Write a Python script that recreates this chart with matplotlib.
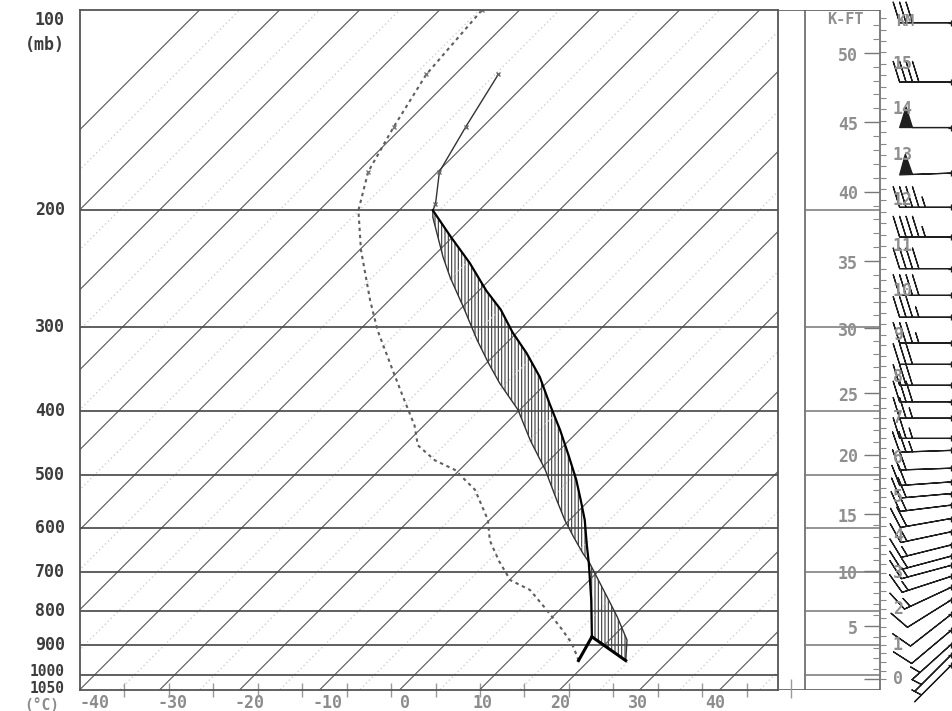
import numpy as np
import matplotlib
matplotlib.use("Agg")
import matplotlib.pyplot as plt

# ---------------- data ----------------
pressure_levels = [100, 200, 300, 400, 500, 600, 700, 800, 900, 1000, 1050]
pressure_labels = ["100", "200", "300", "400", "500", "600", "700", "800", "900", "1000", "1050"]
temp_label_values = [-40, -30, -20, -10, 0, 10, 20, 30, 40]
isotherm_values = list(range(-110, 50, 10))
fahrenheit_ticks = list(range(-30, 120, 10))

# environmental temperature (hPa, degC), surface upward
env_p = [950, 885, 817, 762, 678, 655, 619, 584, 545, 491, 443, 399, 364, 339,
         313, 280, 252, 235, 205, 200, 196, 175, 150, 125]
env_t = [24.6, 22.2, 18.1, 14.3, 7.9, 5.8, 2.6, -0.6, -4.1, -9.3, -14.9, -20.2,
         -25.8, -29.8, -34.1, -39.8, -45.3, -48.7, -54.9, -55.8, -56.2, -59.8,
         -62.1, -64.6]

# lifted parcel from LCL upward
parcel_p = [875, 770, 678, 637, 584, 545, 508, 466, 428, 390, 356, 328, 305,
            282, 264, 240, 219, 200]
parcel_t = [17.4, 12.7, 7.8, 5.3, 1.9, -1.1, -4.2, -8.3, -12.4, -17.1, -21.6,
            -26.2, -30.6, -34.9, -39.1, -44.6, -50.3, -55.8]

# dewpoint, surface upward
dew_p = [950, 938, 895, 851, 795, 744, 719, 673, 627, 584, 526, 491, 475, 451,
         421, 386, 348, 303, 273, 229, 200, 175, 150, 125, 100]
dew_t = [18.7, 18.1, 15.7, 12.6, 8.2, 3.8, 0.1, -3.7, -7.4, -10.2, -15.6, -20.6,
         -24.3, -28.3, -31.2, -35.6, -40.8, -47.7, -52.4, -59.9, -65.1, -68.7,
         -71.1, -73.6, -74.7]

sfc_p, sfc_t, sfc_td = 950, 24.6, 18.7
lcl_p, lcl_t = 875, 17.4
lfc_p, el_p = 678, 200

kft_labels = [5, 10, 15, 20, 25, 30, 35, 40, 45, 50]
km_labels = list(range(0, 16))

wind_km = [15.9, 14.6, 13.6, 12.6, 11.85, 11.2, 10.5, 9.9, 9.4, 8.8, 8.3, 7.8,
           7.4, 7.0, 6.5, 6.2, 5.75, 5.4, 5.1, 4.8, 4.45, 4.1, 3.75, 3.45, 3.2,
           2.9, 2.6, 2.25, 1.85, 1.4, 1.0, 0.7, 0.4]
wind_dir = [270, 270, 270, 268, 270, 270, 270, 270, 270, 270, 270, 270, 270, 270,
            270, 268, 268, 266, 265, 263, 260, 258, 256, 255, 255, 252, 245, 238,
            232, 230, 228, 225, 225]
wind_kt = [30, 40, 50, 50, 45, 45, 40, 40, 35, 35, 30, 30, 30, 25, 25, 25, 20,
           20, 20, 20, 20, 15, 15, 15, 15, 15, 15, 10, 10, 10, 5, 5, 5]

# ---------------- helpers ----------------
SKEW = 36.125  # degC of x-shift per unit ln(p)


def skew_x(t, p):
    return np.asarray(t, float) + SKEW * np.log(1050.0 / np.asarray(p, float))


def isa_p(h_km):
    h = np.asarray(h_km, float) * 1000.0
    lower = 1013.25 * np.clip(1 - 2.25577e-5 * h, 1e-6, None) ** 5.25588
    upper = 226.32 * np.exp(-(h - 11000.0) / 6341.6)
    return np.where(h <= 11000.0, lower, upper)


plt.rcParams['font.family'] = ['DejaVu Sans Mono']
plt.rcParams['font.weight'] = 'bold'
plt.rcParams['hatch.linewidth'] = 0.8

W, H = 953, 711
L, R, T, B = 80, 778, 10, 689.5
fig = plt.figure(figsize=(W / 100, H / 100), dpi=100)
fig.patch.set_facecolor('white')

ax = fig.add_axes([L / W, 1 - B / H, (R - L) / W, (B - T) / H])
ax.set_yscale('log')
ax.set_ylim(1050, 100)
ax.set_xlim(-40, 47.25)
ax.set_yticks([])
ax.set_yticks([], minor=True)
for s in ax.spines.values():
    s.set_color('#555555')
    s.set_linewidth(1.3)

# isotherms and faint intermediate lines
pp = np.array([1050, 100])
for t in isotherm_values:
    ax.plot(skew_x([t, t], pp), pp, color='#555555', lw=0.8)
    ax.plot(skew_x([t + 5, t + 5], pp), pp, color='#cfcfcf', lw=1.0, ls=(0, (1, 2)))

# pressure lines
for p in pressure_levels[1:-1]:
    ax.axhline(p, color='#444444', lw=1.2)

env_p_a, env_t_a = np.array(env_p, float), np.array(env_t, float)
par_p_a, par_t_a = np.array(parcel_p, float), np.array(parcel_t, float)

# positive area (hatched)
m1 = (env_p_a <= lfc_p) & (env_p_a >= el_p)
m2 = (par_p_a <= lfc_p) & (par_p_a >= el_p)
poly_p = np.concatenate([env_p_a[m1], par_p_a[m2][::-1]])
poly_t = np.concatenate([env_t_a[m1], par_t_a[m2][::-1]])
ax.fill(skew_x(poly_t, poly_p), poly_p, facecolor='none', edgecolor='#3a3a3a',
        hatch='|||||', lw=0)
# negative area (hatched)
m3 = env_p_a >= lfc_p
m4 = par_p_a >= lfc_p
poly_p = np.concatenate([env_p_a[m3], par_p_a[m4][::-1]])
poly_t = np.concatenate([env_t_a[m3], par_t_a[m4][::-1]])
ax.fill(skew_x(poly_t, poly_p), poly_p, facecolor='none', edgecolor='#3a3a3a',
        hatch='|||||', lw=0)

# profiles
ax.plot(skew_x(env_t, env_p), env_p, color='#333333', lw=1.0)
ax.plot(skew_x(parcel_t, parcel_p), parcel_p, color='black', lw=1.6)
ax.plot(skew_x(dew_t, dew_p), dew_p, color='#5e5e5e', lw=1.5, ls=(0, (1.6, 1.8)))
dp = np.array(dew_p, float)
dt = np.array(dew_t, float)
mk = dp < 200
ax.plot(skew_x(dt[mk], dp[mk]), dp[mk], ls='none', marker='x', ms=3, mew=1,
        color='#777777')
mk = env_p_a < 200
ax.plot(skew_x(env_t_a[mk], env_p_a[mk]), env_p_a[mk], ls='none', marker='x',
        ms=3, mew=1, color='#666666')

# surface parcel lines to LCL
ax.plot(skew_x([sfc_t, lcl_t], [sfc_p, lcl_p]), [sfc_p, lcl_p], color='black', lw=2.2)
ax.plot(skew_x([sfc_td, lcl_t], [sfc_p, lcl_p]), [sfc_p, lcl_p], color='black', lw=2.2)

# x tick labels (degC) and Fahrenheit ticks
lab_x = (np.array(temp_label_values) * 7.75 + 5.0) / 8.0
ax.set_xticks(lab_x)
ax.set_xticklabels([str(v) for v in temp_label_values])
ax.set_xticks((np.array(fahrenheit_ticks) - 32) * 5 / 9, minor=True)
ax.tick_params(axis='x', which='major', length=0, pad=3, labelsize=12,
               labelcolor='#8c8c8c')
ax.tick_params(axis='x', which='minor', length=9.5, direction='inout',
               color='#999999', width=1)

# pressure labels
ytr = ax.get_yaxis_transform()
offs = {100: -7, 1000: 3.0, 1050: 1.0}
sizes = {1000: 10.5, 1050: 10.5}
for p, lbl in zip(pressure_levels, pressure_labels):
    ax.annotate(lbl, xy=(0, p), xycoords=ytr, xytext=(-11, offs.get(p, 0)),
                textcoords='offset points', ha='right', va='center',
                fontsize=sizes.get(p, 12), color='#3c3c3c')
ax.annotate('(mb)', xy=(0, 100), xycoords=ytr, xytext=(-11, -25),
            textcoords='offset points', ha='right', va='center', fontsize=12,
            color='#3c3c3c')
fig.text(42 / W, 1 - 705 / H, '(°C)', ha='center', va='center', fontsize=10.5,
         color='#8c8c8c')

# ---------------- right panel (linear in ln p) ----------------
axr = fig.add_axes([R / W, 1 - B / H, (W - R) / W, (B - T) / H])
axr.set_ylim(np.log(1050), np.log(100))
axr.set_xlim(R, W)
axr.axis('off')


def lp(p):
    return np.log(np.asarray(p, float))


lc = '#666666'
axr.vlines([805, 880], lp(1050), lp(100), color=lc, lw=1.2)
axr.hlines(lp([100, 1050]), R, 880, color=lc, lw=1.3)
axr.hlines(lp(pressure_levels[1:-1]), 805, 880, color='#777777', lw=1.1)
# Fahrenheit tick in the strip
f_strip = 400 + 8 * (120 - 32) * 5 / 9
axr.vlines([f_strip], lp(1012), lp(1080), color='#999999', lw=1, clip_on=False)

kft_all = np.arange(0, 53)
p_kft = isa_p(kft_all * 0.3048)
major = kft_all % 5 == 0
axr.hlines(lp(p_kft[major]), 864, 880, color='#777777', lw=1.0)
axr.hlines(lp(p_kft[~major]), 873, 880, color='#888888', lw=0.8)
km_all = np.arange(0, 16.01, 0.25)
axr.hlines(lp(isa_p(km_all)), 880, 886, color='#888888', lw=0.8)

for k in kft_labels:
    axr.annotate(str(k), xy=(858, lp(isa_p(k * 0.3048))), xytext=(0, -2),
                 textcoords='offset points', ha='right', va='center',
                 fontsize=12, color='#8f8f8f')
for k in km_labels:
    axr.text(893, lp(isa_p(k)), str(k), ha='left', va='center', fontsize=12,
             color='#8f8f8f')
fig.text(845 / W, 1 - 20 / H, 'K-FT', ha='center', va='center', fontsize=11,
         color='#8f8f8f')
fig.text(896 / W, 1 - 22 / H, 'KM', ha='left', va='center', fontsize=11,
         color='#8f8f8f')

# wind barbs (staff length in points = length**2 / 2)
wd = np.deg2rad(np.array(wind_dir, float))
ws = np.array(wind_kt, float)
u = -ws * np.sin(wd)
v = -ws * np.cos(wd)
wy = lp(isa_p(wind_km))
wx = np.full(len(wind_km), 951.0)
axr.barbs(wx, wy, u, v, length=8.6, color='#1e1e1e', linewidth=0.9,
          clip_on=False)
axr.plot(wx, wy, ls='none', marker='+', ms=4, mew=0.9, color='#1e1e1e',
         clip_on=False)

fig.savefig('out.png', dpi=100, facecolor='white')
